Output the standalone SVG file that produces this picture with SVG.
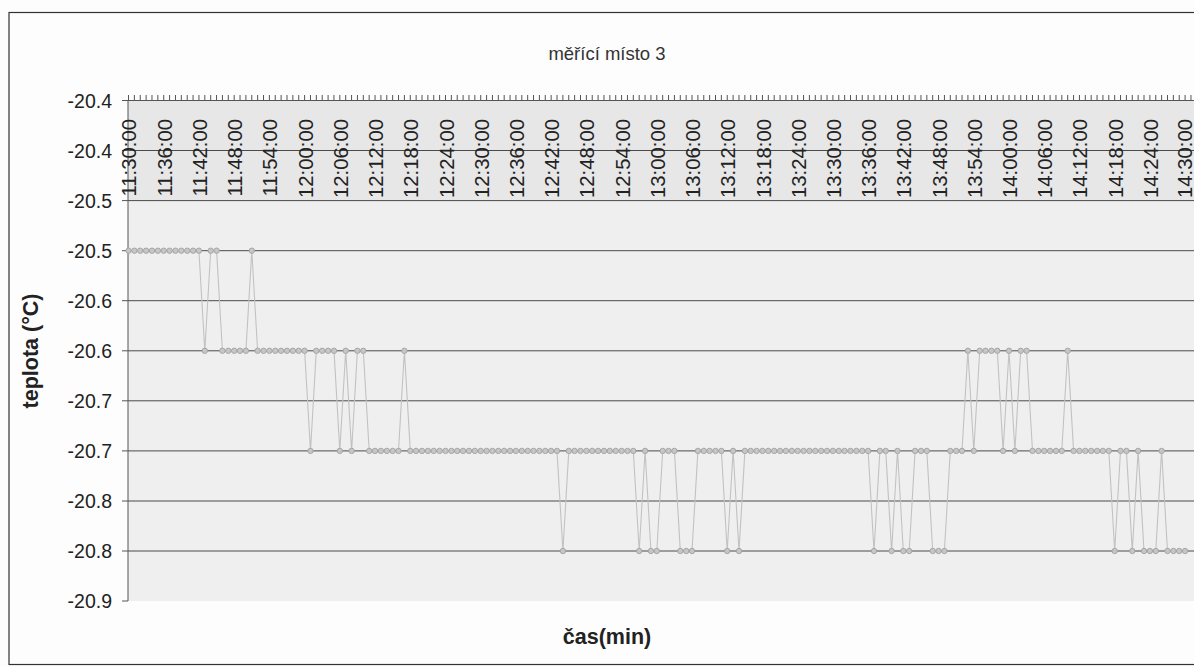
<svg xmlns="http://www.w3.org/2000/svg" width="1194" height="667" viewBox="0 0 1194 667">
<style>
text{font-family:"Liberation Sans",Arial,sans-serif;fill:#222}
.yl{font-size:19.5px;text-anchor:end}
.xl{font-size:20.3px;text-anchor:end}
.grid{stroke:#4a4a4a;stroke-width:1}
.axis{stroke:#555;stroke-width:1;fill:none}
.ttl{font-size:18.5px;text-anchor:middle;fill:#333}
.at{font-size:21.5px;font-weight:bold;text-anchor:middle}
</style>
<defs>
<marker id="dot" markerUnits="userSpaceOnUse" markerWidth="8" markerHeight="8" refX="4" refY="4" viewBox="0 0 8 8">
<circle cx="4" cy="4" r="2.7" fill="#c6c6c6" stroke="#a2a2a2" stroke-width="0.9"/>
</marker>
</defs>
<rect x="0" y="0" width="1194" height="667" fill="#fdfdfd"/>
<rect x="9" y="12.5" width="1200" height="652" fill="#fdfdfd" stroke="#333" stroke-width="1.2"/>
<g id="plot-area">
<rect x="128" y="100.5" width="1066" height="500.5" fill="#efefef"/>
<rect x="128" y="100.5" width="1066" height="100.1" fill="#e7e7e7"/>
</g>
<g id="gridlines">
<line class="grid" x1="128" y1="150.5" x2="1194" y2="150.5"/>
<line class="grid" x1="128" y1="200.6" x2="1194" y2="200.6"/>
<line class="grid" x1="128" y1="250.7" x2="1194" y2="250.7"/>
<line class="grid" x1="128" y1="300.7" x2="1194" y2="300.7"/>
<line class="grid" x1="128" y1="350.8" x2="1194" y2="350.8"/>
<line class="grid" x1="128" y1="400.8" x2="1194" y2="400.8"/>
<line class="grid" x1="128" y1="450.9" x2="1194" y2="450.9"/>
<line class="grid" x1="128" y1="501" x2="1194" y2="501"/>
<line class="grid" x1="128" y1="551" x2="1194" y2="551"/>
</g>
<g id="axes">
<line class="axis" x1="128" y1="100.5" x2="1194" y2="100.5"/>
<line class="axis" x1="128" y1="100.5" x2="128" y2="601"/>
<line x1="128" y1="97.5" x2="1194" y2="97.5" stroke="#555" stroke-width="5" stroke-dasharray="1 4.87"/>
<path class="axis" d="M122 100.5H128M122 150.5H128M122 200.6H128M122 250.7H128M122 300.7H128M122 350.8H128M122 400.8H128M122 450.9H128M122 501H128M122 551H128M122 601H128"/>
</g>
<g id="y-labels">
<text class="yl" x="112" y="107.5">-20.4</text>
<text class="yl" x="112" y="157.5">-20.4</text>
<text class="yl" x="112" y="207.6">-20.5</text>
<text class="yl" x="112" y="257.7">-20.5</text>
<text class="yl" x="112" y="307.7">-20.6</text>
<text class="yl" x="112" y="357.8">-20.6</text>
<text class="yl" x="112" y="407.8">-20.7</text>
<text class="yl" x="112" y="457.9">-20.7</text>
<text class="yl" x="112" y="508">-20.8</text>
<text class="yl" x="112" y="558">-20.8</text>
<text class="yl" x="112" y="608">-20.9</text>
</g>
<g id="x-labels">
<text class="xl" transform="translate(136,119) rotate(-90)">11:30:00</text>
<text class="xl" transform="translate(171.7,119) rotate(-90)">11:36:00</text>
<text class="xl" transform="translate(206.9,119) rotate(-90)">11:42:00</text>
<text class="xl" transform="translate(242.2,119) rotate(-90)">11:48:00</text>
<text class="xl" transform="translate(277.4,119) rotate(-90)">11:54:00</text>
<text class="xl" transform="translate(312.6,119) rotate(-90)">12:00:00</text>
<text class="xl" transform="translate(347.8,119) rotate(-90)">12:06:00</text>
<text class="xl" transform="translate(383,119) rotate(-90)">12:12:00</text>
<text class="xl" transform="translate(418.3,119) rotate(-90)">12:18:00</text>
<text class="xl" transform="translate(453.5,119) rotate(-90)">12:24:00</text>
<text class="xl" transform="translate(488.7,119) rotate(-90)">12:30:00</text>
<text class="xl" transform="translate(523.9,119) rotate(-90)">12:36:00</text>
<text class="xl" transform="translate(559.1,119) rotate(-90)">12:42:00</text>
<text class="xl" transform="translate(594.4,119) rotate(-90)">12:48:00</text>
<text class="xl" transform="translate(629.6,119) rotate(-90)">12:54:00</text>
<text class="xl" transform="translate(664.8,119) rotate(-90)">13:00:00</text>
<text class="xl" transform="translate(700,119) rotate(-90)">13:06:00</text>
<text class="xl" transform="translate(735.2,119) rotate(-90)">13:12:00</text>
<text class="xl" transform="translate(770.5,119) rotate(-90)">13:18:00</text>
<text class="xl" transform="translate(805.7,119) rotate(-90)">13:24:00</text>
<text class="xl" transform="translate(840.9,119) rotate(-90)">13:30:00</text>
<text class="xl" transform="translate(876.1,119) rotate(-90)">13:36:00</text>
<text class="xl" transform="translate(911.3,119) rotate(-90)">13:42:00</text>
<text class="xl" transform="translate(946.6,119) rotate(-90)">13:48:00</text>
<text class="xl" transform="translate(981.8,119) rotate(-90)">13:54:00</text>
<text class="xl" transform="translate(1017,119) rotate(-90)">14:00:00</text>
<text class="xl" transform="translate(1052.2,119) rotate(-90)">14:06:00</text>
<text class="xl" transform="translate(1087.4,119) rotate(-90)">14:12:00</text>
<text class="xl" transform="translate(1122.7,119) rotate(-90)">14:18:00</text>
<text class="xl" transform="translate(1157.9,119) rotate(-90)">14:24:00</text>
<text class="xl" transform="translate(1191.5,119) rotate(-90)">14:30:00</text>
</g>
<g id="series">
<polyline fill="none" stroke="#c2c2c2" stroke-width="1.1" marker-start="url(#dot)" marker-mid="url(#dot)" marker-end="url(#dot)" points="128.5,250.7 134.4,250.7 140.2,250.7 146.1,250.7 152,250.7 157.9,250.7 163.7,250.7 169.6,250.7 175.5,250.7 181.3,250.7 187.2,250.7 193.1,250.7 198.9,250.7 204.8,350.8 210.7,250.7 216.6,250.7 222.4,350.8 228.3,350.8 234.2,350.8 240,350.8 245.9,350.8 251.8,250.7 257.6,350.8 263.5,350.8 269.4,350.8 275.3,350.8 281.1,350.8 287,350.8 292.9,350.8 298.7,350.8 304.6,350.8 310.5,450.9 316.3,350.8 322.2,350.8 328.1,350.8 334,350.8 339.8,450.9 345.7,350.8 351.6,450.9 357.4,350.8 363.3,350.8 369.2,450.9 375,450.9 380.9,450.9 386.8,450.9 392.7,450.9 398.5,450.9 404.4,350.8 410.3,450.9 416.1,450.9 422,450.9 427.9,450.9 433.7,450.9 439.6,450.9 445.5,450.9 451.4,450.9 457.2,450.9 463.1,450.9 469,450.9 474.8,450.9 480.7,450.9 486.6,450.9 492.4,450.9 498.3,450.9 504.2,450.9 510.1,450.9 515.9,450.9 521.8,450.9 527.7,450.9 533.5,450.9 539.4,450.9 545.3,450.9 551.1,450.9 557,450.9 562.9,551 568.8,450.9 574.6,450.9 580.5,450.9 586.4,450.9 592.2,450.9 598.1,450.9 604,450.9 609.8,450.9 615.7,450.9 621.6,450.9 627.5,450.9 633.3,450.9 639.2,551 645.1,450.9 650.9,551 656.8,551 662.7,450.9 668.5,450.9 674.4,450.9 680.3,551 686.2,551 692,551 697.9,450.9 703.8,450.9 709.6,450.9 715.5,450.9 721.4,450.9 727.2,551 733.1,450.9 739,551 744.9,450.9 750.7,450.9 756.6,450.9 762.5,450.9 768.3,450.9 774.2,450.9 780.1,450.9 785.9,450.9 791.8,450.9 797.7,450.9 803.6,450.9 809.4,450.9 815.3,450.9 821.2,450.9 827,450.9 832.9,450.9 838.8,450.9 844.6,450.9 850.5,450.9 856.4,450.9 862.3,450.9 868.1,450.9 874,551 879.9,450.9 885.7,450.9 891.6,551 897.5,450.9 903.3,551 909.2,551 915.1,450.9 921,450.9 926.8,450.9 932.7,551 938.6,551 944.4,551 950.3,450.9 956.2,450.9 962,450.9 967.9,350.8 973.8,450.9 979.7,350.8 985.5,350.8 991.4,350.8 997.3,350.8 1003.1,450.9 1009,350.8 1014.9,450.9 1020.7,350.8 1026.6,350.8 1032.5,450.9 1038.4,450.9 1044.2,450.9 1050.1,450.9 1056,450.9 1061.8,450.9 1067.7,350.8 1073.6,450.9 1079.4,450.9 1085.3,450.9 1091.2,450.9 1097.1,450.9 1102.9,450.9 1108.8,450.9 1114.7,551 1120.5,450.9 1126.4,450.9 1132.3,551 1138.1,450.9 1144,551 1149.9,551 1155.8,551 1161.6,450.9 1167.5,551 1173.4,551 1179.2,551 1185.1,551"/>
</g>
<g id="title"><text class="ttl" x="607" y="60">měřící místo 3</text></g>
<g id="y-title"><text class="at" transform="translate(38,351) rotate(-90)">teplota (°C)</text></g>
<g id="x-title"><text class="at" x="607" y="644">čas(min)</text></g>
</svg>
